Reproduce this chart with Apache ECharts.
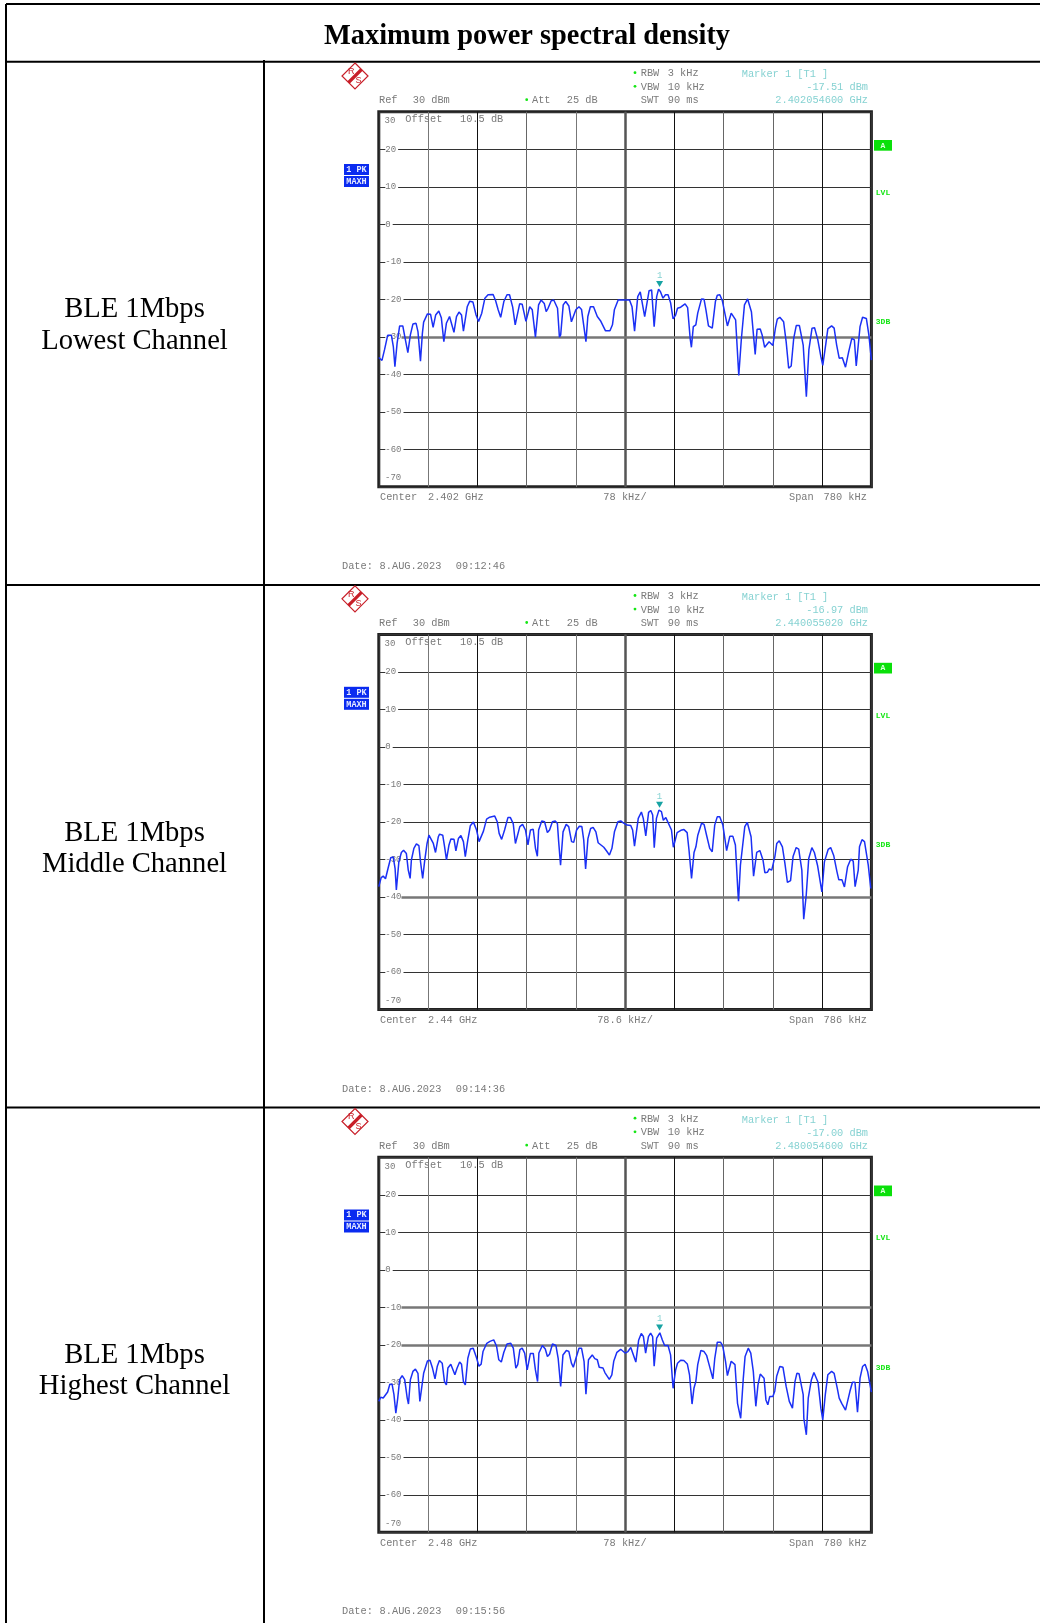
<!DOCTYPE html>
<html><head><meta charset="utf-8">
<style>html,body{margin:0;padding:0;background:#fff}#c{width:1040px;height:1623px}</style>
<script src="https://cdn.jsdelivr.net/npm/echarts@6/dist/echarts.min.js"></script>
</head><body><div id="c"></div>
<script>
const title = 'Maximum power spectral density';
const rowLabels = [['BLE 1Mbps','Lowest Channel'],['BLE 1Mbps','Middle Channel'],['BLE 1Mbps','Highest Channel']];
const levelTicks = [30,20,10,0,-10,-20,-30,-40,-50,-60,-70];
const spans = [780,786,780];
const perDiv = ['78 kHz/','78.6 kHz/','78 kHz/'];
const spanValues = ['780 kHz','786 kHz','780 kHz'];
const centers = ['2.402 GHz','2.44 GHz','2.48 GHz'];
const dateDay = '8.AUG.2023';
const dateTimes = ['09:12:46','09:14:36','09:15:56'];
const markerLevelText = ['-17.51 dBm','-16.97 dBm','-17.00 dBm'];
const markerFreqText = ['2.402054600 GHz','2.440055020 GHz','2.480054600 GHz'];
const markerX = [444.6,448.0,444.6];
const markerY = [-17.51,-16.97,-17.00];

const low_x = [0,5,9,14,20,23,25.5,29,33,38,41,46,50,54,59,62,66,69,71,77,82,86,90,95,99,103,107,112,115,119,123,127,131,134,140,144,149,154,158,163,168,173,181,185,189,193,198,203,207,212,216,223,227,233,239,243,248,253,257,262,265,268,273,277,283,286,288,292,296,301,305,307,312,317,321,328,331,335,340,346,351,359,366,370,373,379,383,397,401,405,410,414,417,421,424,428,432,436,440,443,446,450,454,458,462,466,470,473,478,485,489,493,495,498,502,505,511,515,518,522,528,533,536,540,544,552,558,561,565,570,574,579,584,586,590,596,599,604,607,611,618,624,628,631,635,641,645,649,653,657,661,666,672,677,681,686,690,695,700,703,708,711,717,721,725,729,734,739,744,749,753,756,759,762,766,772,776,780];
const low_y = [-35.5,-36.3,-33.5,-29.6,-29.6,-32.6,-38.0,-31.7,-27.1,-27.1,-29.8,-34.2,-29.5,-26.6,-26.4,-28.6,-36.5,-29.1,-26.1,-23.9,-24.0,-27.5,-24.2,-23.1,-24.9,-31.3,-26.4,-24.6,-25.1,-28.8,-24.6,-23.4,-24.2,-28.5,-22.0,-20.5,-20.7,-24.2,-25.9,-23.7,-19.7,-18.8,-18.7,-20.4,-22.8,-24.8,-20.6,-18.8,-18.8,-22.1,-26.8,-21.2,-21.3,-25.9,-22.0,-22.8,-30.1,-21.5,-20.2,-21.1,-23.3,-22.4,-20.4,-20.2,-22.4,-30.1,-29.5,-21.5,-20.6,-21.8,-26.0,-26.1,-22.8,-22.0,-22.7,-31.3,-24.6,-22.0,-22.0,-24.6,-25.7,-28.4,-28.4,-26.8,-22.8,-20.2,-20.2,-20.2,-22.0,-28.5,-19.3,-18.0,-18.0,-24.6,-24.6,-17.7,-17.5,-27.3,-19.3,-17.3,-18.0,-19.7,-18.8,-18.8,-20.9,-25.2,-24.2,-22.4,-22.1,-21.2,-22.2,-30.4,-32.8,-27.3,-26.8,-23.7,-19.9,-20.0,-22.8,-27.1,-27.7,-20.6,-18.9,-18.8,-20.4,-27.1,-23.7,-23.7,-25.5,-40.3,-30.8,-21.5,-19.9,-20.2,-23.3,-34.7,-28.0,-27.9,-29.5,-32.8,-31.3,-32.3,-27.7,-25.3,-24.8,-26.0,-31.3,-38.4,-37.8,-30.4,-27.0,-27.0,-32.2,-46.0,-33.5,-27.7,-27.6,-30.7,-35.3,-37.6,-31.7,-27.9,-27.1,-27.7,-32.2,-35.7,-35.6,-38.1,-34.0,-30.4,-30.8,-37.8,-37.8,-27.3,-24.8,-25.1,-29.5,-36.2];

const mid_x = [0,3.8,7,10.7,14.5,19,23,26,28,32,36,39.5,44,47,50,52,56,60,64,66.6,70,73,77,80,83,87,90.5,95,97,102,105,108,112,115,120,123,127,131,135,138,142,146,151,156,160,163,167,172,177,185,189,192,196,200.7,206,210,214.5,218,221,225,229.4,234,238,242,246.4,250,253,255,260,264.5,269,272.5,277,281.5,285,287,290,294,299,303,307.6,311,315.6,320,324,327,330,333.7,338,342,346.4,350,359,363.5,368,372,376,381.5,386,390,396,402,405,408,410,414,419,422,426,430.5,434,437,439.5,443,447,451,454,458,461,467,470,473,476,482,487,492,495,499,503,506,509,515,519,523,528,532,536,540,544,549,555,560,565,569,573,574,577,584,588,591,594,598,600,603,608,613,616,620,623,627,632,635,639,644,648,652,657,661,666,670,675,678,682,686,691,695,700,707,711,717,721,726,731,734,739,743,748,753,757,760,765,767,771,775,781,785];
const mid_y = [-37.2,-34.8,-34.4,-35.1,-32.5,-29.5,-29.3,-32.4,-38.1,-30.6,-28.1,-27.5,-28.4,-32.8,-35.0,-30.1,-27.0,-25.8,-26.3,-30.6,-35.0,-30.6,-25.7,-23.5,-23.2,-25.7,-28.1,-23.9,-23.2,-23.5,-26.6,-30.1,-26.1,-24.5,-24.6,-27.7,-24.4,-23.6,-25.2,-29.2,-24.8,-21.0,-20.0,-22.1,-25.2,-25.6,-22.4,-19.2,-18.7,-18.4,-19.9,-23.0,-24.6,-22.1,-18.8,-18.8,-20.4,-25.7,-26.1,-21.2,-20.6,-22.1,-26.1,-22.1,-21.9,-27.0,-29.1,-22.1,-19.7,-19.9,-22.8,-22.1,-19.9,-19.7,-20.4,-25.2,-31.5,-22.6,-20.6,-21.2,-25.2,-25.4,-22.1,-21.1,-21.2,-24.8,-32.5,-24.4,-21.7,-21.4,-22.6,-25.5,-26.7,-27.7,-28.8,-27.0,-22.6,-19.9,-19.7,-20.2,-20.8,-20.9,-22.1,-26.4,-26.1,-19.0,-17.3,-19.0,-23.7,-17.4,-16.9,-18.1,-26.8,-19.0,-16.8,-17.2,-19.5,-18.8,-18.8,-22.1,-26.7,-24.8,-22.8,-22.2,-22.0,-22.8,-27.5,-35.0,-28.1,-26.6,-23.5,-20.3,-20.6,-23.5,-27.0,-27.9,-20.8,-18.6,-18.6,-20.8,-27.6,-23.8,-23.8,-26.1,-38.6,-41.1,-31.5,-21.2,-20.1,-20.4,-23.9,-34.4,-34.8,-28.1,-27.6,-30.1,-33.5,-33.4,-32.5,-32.8,-29.2,-25.7,-25.0,-26.6,-31.0,-36.1,-35.6,-29.2,-26.8,-27.2,-32.8,-45.9,-39.5,-29.7,-26.8,-28.1,-31.5,-38.6,-30.6,-27.3,-26.8,-29.0,-33.2,-35.4,-35.4,-37.3,-31.9,-29.9,-30.4,-37.2,-32.8,-26.6,-24.7,-25.2,-31.5,-37.7];

const high_x = [0,3,7,10,14,17.5,21,24,27,30,33,37,41,45,47,50,54,58,62,65,68,71,74,77,81,85,89,92.5,96,100.4,104,107,109.4,114,116,120.5,124,128,131,134,137,141,145,149.5,155,158.5,162,165,171,176,182,186.5,190,194,198,203,209,213,217,220,223.4,227,231,235,240,244.6,248,251.4,253.5,259,263.6,267,270.4,275,280.5,284,288,291.6,297,301,305,308,313,317,321,325,328,332,338,342,346,349,355,358,365,369,372,377,383,390,394.5,399,402,407,411.4,415.6,419,422.5,427,430.4,433.6,436,440,445,449,452.6,458,462,466,470,473,478,483,488.5,492,496,499,502,505,510,515,519,523,529,532,536,541,544.5,549,552,558,564,568,573,577,580,585,589,593,597,600.4,604,610,613,616,619,624,627,630,635,640,645,650,655,659,662,665.4,672,673,677,680,685,689,695.5,700,703,707,711,717,721,726,729,733,736,739,742,746,750,754,758,762,766,770,774,780];
const high_y = [-35.1,-34.0,-34.2,-34.2,-32.6,-30.5,-30.5,-33.3,-38.2,-34.2,-29.3,-28.2,-29.3,-34.2,-35.8,-29.3,-27.1,-26.5,-27.6,-35.1,-35.1,-27.6,-27.1,-24.3,-24.1,-26.2,-29.1,-25.8,-24.2,-24.9,-29.8,-30.7,-26.2,-25.2,-25.2,-28.0,-26.2,-24.6,-25.2,-29.8,-30.7,-23.6,-21.1,-20.9,-23.6,-25.7,-25.2,-21.8,-19.6,-19.1,-18.7,-20.4,-24.0,-24.6,-22.0,-19.8,-19.6,-20.9,-26.2,-25.3,-21.3,-20.9,-22.2,-26.7,-22.3,-22.3,-26.7,-29.8,-22.2,-20.2,-21.1,-23.1,-22.5,-19.8,-20.2,-23.6,-31.1,-22.7,-21.5,-21.8,-24.9,-26.0,-23.1,-20.9,-20.9,-24.4,-33.2,-24.0,-22.7,-23.7,-24.0,-26.0,-26.2,-27.4,-29.2,-28.0,-24.4,-22.0,-21.2,-22.2,-21.8,-20.7,-20.9,-24.6,-18.8,-17.0,-17.8,-22.2,-17.8,-16.9,-17.8,-25.7,-18.2,-16.8,-18.7,-20.2,-20.2,-22.7,-31.6,-26.7,-24.9,-24.1,-24.2,-25.1,-28.0,-35.8,-31.6,-29.8,-25.3,-21.5,-21.8,-22.8,-25.3,-29.1,-23.6,-19.3,-19.3,-20.2,-24.4,-28.2,-24.4,-25.3,-35.6,-39.6,-29.3,-23.1,-20.9,-22.2,-27.1,-36.4,-30.7,-27.8,-28.9,-34.7,-36.0,-33.8,-33.8,-32.3,-28.4,-25.8,-26.0,-31.1,-35.1,-36.9,-29.8,-27.6,-27.7,-33.3,-39.6,-44.0,-34.2,-29.3,-27.4,-30.0,-36.9,-40.0,-33.3,-28.0,-27.1,-27.6,-31.6,-34.2,-35.6,-35.7,-37.4,-37.4,-32.4,-30.0,-30.0,-38.0,-28.9,-25.8,-25.2,-27.1,-32.6];

const traces = [[low_x,low_y],[mid_x,mid_y],[high_x,high_y]];
const heavyLevels = [[-30],[-40],[-10,-20]];

const MONO = '"Liberation Mono","DejaVu Sans Mono",monospace';
const SERIF = '"Liberation Serif",serif';
const GRAY = '#7a7a7a', TEAL = '#86d2d2', GREEN = '#14e614', RED = '#c81e28';
const panelDy = [0,522.8,1045.5];
const gridL = 378.8, gridW = 492.6, gridT = 111.8, gridH = 375;

const g = [];
const txt = (x,y,s,o={}) => g.push({type:'text',x,y,silent:true,z:20,style:Object.assign({text:s,fill:GRAY,font:'10.3px '+MONO,verticalAlign:'middle',textAlign:'left'},o)});
const line = (x1,y1,x2,y2,stroke='#000',lineWidth=2,z=15) => g.push({type:'line',silent:true,z,shape:{x1,y1,x2,y2},style:{stroke,lineWidth}});
const rect = (x,y,w,h,fill) => g.push({type:'rect',silent:true,z:18,shape:{x,y,width:w,height:h},style:{fill}});
const dot = (x,y) => g.push({type:'circle',silent:true,z:20,shape:{cx:x,cy:y,r:1.4},style:{fill:GREEN}});

// table rules
line(6,4,1040,4); line(6,4,6,1623); line(6,61.7,1040,61.7); line(264,60,264,1623);
line(6,585,1040,585); line(6,1107.5,1040,1107.5);
txt(527,37,title,{font:'bold 28.4px '+SERIF,fill:'#000',textAlign:'center'});
const labelY = [[309.5,341.5],[833,864.5],[1355,1386.5]];
rowLabels.forEach((r,i)=>r.forEach((s,j)=>txt(134.5,labelY[i][j],s,{font:'28.6px '+SERIF,fill:'#000',textAlign:'center'})));

const grids=[],xAxes=[],yAxes=[],series=[];
const vColors=['#333','#777','#111','#666','#777','#555','#111','#666','#666','#111','#333'];
traces.forEach((t,i)=>{
  const d=panelDy[i];
  grids.push({left:gridL,top:gridT+d,width:gridW,height:gridH,show:true,borderColor:'#222',borderWidth:3,backgroundColor:'#fff'});
  xAxes.push({type:'value',gridIndex:i,min:0,max:spans[i],interval:spans[i]/10,
    axisLine:{show:false},axisTick:{show:false},axisLabel:{show:false},
    splitLine:{show:true,lineStyle:{color:vColors,width:1}}});
  yAxes.push({type:'value',gridIndex:i,min:-70,max:30,interval:10,
    axisLine:{show:false},axisTick:{show:false},
    axisLabel:{inside:true,showMinLabel:false,showMaxLabel:false,margin:6.5,color:GRAY,fontFamily:MONO,fontSize:9,backgroundColor:'#fff',padding:[0,2,0,0],align:'left'},
    splitLine:{show:true,lineStyle:{color:'#333',width:1}}});
  const labelGap = spans[i]*0.046;
  series.push({type:'line',xAxisIndex:i,yAxisIndex:i,data:t[0].map((x,k)=>[x,t[1][k]]),
    showSymbol:false,smooth:false,lineStyle:{color:'#1b30f5',width:1.5},z:5,silent:true,
    markLine:{silent:true,symbol:'none',label:{show:false},animation:false,z:2,
      data:[{xAxis:spans[i]/2,lineStyle:{color:'#555',width:2.5,type:'solid'}},
            ...heavyLevels[i].map(v=>[{coord:[labelGap,v],lineStyle:{color:'#777',width:2.5,type:'solid'}},{coord:[spans[i],v]}])]},
    markPoint:{silent:true,animation:false,z:8,
      data:[{coord:[markerX[i],markerY[i]],symbol:'triangle',symbolRotate:180,symbolSize:[7,6],symbolOffset:[0,-6],
        itemStyle:{color:'#17a3a3'},label:{show:true,formatter:'1',position:'top',distance:1,color:TEAL,fontFamily:MONO,fontSize:9}}]}});

  txt(384.5,120.7+d,String(levelTicks[0]),{font:'9px '+MONO});
  txt(385,478+d,String(levelTicks[levelTicks.length-1]),{font:'9px '+MONO});
  txt(405.3,119.5+d,'Offset');
  txt(460,119.5+d,'10.5 dB');
  txt(379,100.3+d,'Ref');
  txt(412.7,100.3+d,'30 dBm');
  dot(526.7,99.7+d);
  txt(532,100.3+d,'Att');
  txt(566.7,100.3+d,'25 dB');
  dot(635,72.7+d); dot(635,86.3+d);
  txt(640.7,73.3+d,'RBW'); txt(667.7,73.3+d,'3 kHz');
  txt(640.7,87+d,'VBW');   txt(667.7,87+d,'10 kHz');
  txt(640.7,100.3+d,'SWT'); txt(667.7,100.3+d,'90 ms');
  txt(741.7,74.3+d,'Marker 1 [T1 ]',{fill:TEAL});
  txt(868,87.3+d,markerLevelText[i],{fill:TEAL,textAlign:'right'});
  txt(868,100.3+d,markerFreqText[i],{fill:TEAL,textAlign:'right'});
  rect(874,140+d,18,10.7,'#0ae00a');
  txt(883,145.5+d,'A',{fill:'#d8ffd8',textAlign:'center',font:'bold 8px '+MONO});
  txt(883,192.7+d,'LVL',{fill:GREEN,textAlign:'center',font:'bold 8px '+MONO});
  txt(883,322+d,'3DB',{fill:GREEN,textAlign:'center',font:'bold 8px '+MONO});
  rect(344,164+d,25,11,'#0a2bf0');
  rect(344,176+d,25,11,'#0a2bf0');
  txt(356.5,169.7+d,'1 PK',{fill:'#e8ecff',textAlign:'center',font:'bold 8.5px '+MONO});
  txt(356.5,181.7+d,'MAXH',{fill:'#e8ecff',textAlign:'center',font:'bold 8.5px '+MONO});
  // R&S logo
  const cx=355,cy=76+d,R=13;
  g.push({type:'polygon',silent:true,z:19,shape:{points:[[cx,cy-R],[cx+R,cy],[cx,cy+R],[cx-R,cy]]},style:{fill:'#fff',stroke:RED,lineWidth:1.2}});
  line(cx+6.5,cy-6.5,cx-6.5,cy+6.5,RED,3.2,20);
  txt(cx-3.8,cy-4.6,'R',{fill:RED,textAlign:'center',font:'9px "Liberation Sans",sans-serif'});
  txt(cx+3.6,cy+4.6,'S',{fill:RED,textAlign:'center',font:'9px "Liberation Sans",sans-serif'});
  txt(380,497.3+d,'Center');
  txt(428,497.3+d,centers[i]);
  txt(625,497.3+d,perDiv[i],{textAlign:'center'});
  txt(789,497.3+d,'Span');
  txt(823.6,497.3+d,spanValues[i]);
  txt(342,566+d,'Date:');
  txt(379.6,566+d,dateDay);
  txt(455.7,566+d,dateTimes[i]);
});

const chart=echarts.init(document.getElementById('c'),null,{renderer:'canvas'});
chart.setOption({animation:false,backgroundColor:'#fff',tooltip:{show:false},legend:{show:false},
  grid:grids,xAxis:xAxes,yAxis:yAxes,series,graphic:{elements:g}});
</script></body></html>
